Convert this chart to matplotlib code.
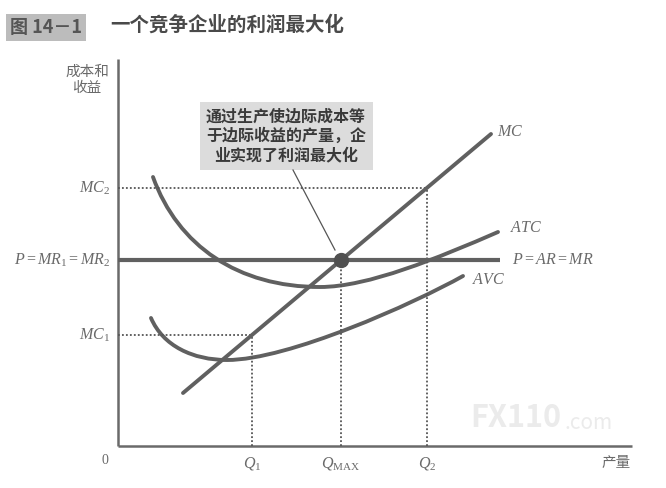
import matplotlib
matplotlib.use('Agg')
import matplotlib.pyplot as plt
from matplotlib.path import Path
from matplotlib.patches import PathPatch, Rectangle

plt.rcParams['font.family'] = ['Noto Sans CJK SC', 'DejaVu Sans']
plt.rcParams['mathtext.fontset'] = 'custom'
plt.rcParams['mathtext.it'] = 'Liberation Serif:italic'
plt.rcParams['mathtext.rm'] = 'Liberation Serif'

# quantities on the x axis
q1 = 134
q_max = 223
q2 = 309
# levels on the y axis
mc1 = 111
price = 186
mc2 = 258

# MC is a straight line
mc_x = [65, 373]
mc_y = [53, 312]

# ATC and AVC as bezier control points (start, c1, c2, end, c1, c2, end)
atc_pts = [(35, 269), (60, 200), (120, 159), (202, 159),
           (250, 159), (320, 188), (380, 214)]
avc_pts = [(33, 128), (45, 100), (75, 86), (109, 86),
           (170, 86), (295, 142), (345, 170)]

x_end = 514
y_top = 387
p_end = 382

curve_col = '#606060'
text_col = '#6a6a6a'

fig = plt.figure(figsize=(6.66, 4.88), dpi=100)
ax = fig.add_axes([0, 0, 1, 1])
ax.set_xlim(-118, 548)
ax.set_ylim(-42, 446)
ax.axis('off')

# axes
ax.plot([0, 0], [0, y_top], color='#6a6a6a', lw=1.8, solid_capstyle='butt')
ax.plot([0, x_end], [0, 0], color='#6a6a6a', lw=1.8, solid_capstyle='butt')

# dotted guides
dot = dict(color='#555555', lw=1.3, ls=(0, (1, 1.2)))
ax.plot([0, q2], [mc2, mc2], **dot)
ax.plot([q2, q2], [0, mc2], **dot)
ax.plot([0, q1], [mc1, mc1], **dot)
ax.plot([q1, q1], [0, mc1], **dot)
ax.plot([q_max, q_max], [0, price], **dot)

# price line
ax.plot([0, p_end], [price, price], color=curve_col, lw=3, solid_capstyle='butt')

def bez(pts):
    codes = [Path.MOVETO] + [Path.CURVE4] * (len(pts) - 1)
    return PathPatch(Path(pts, codes), fill=False, edgecolor=curve_col, lw=2.8,
                     capstyle='round')

ax.add_patch(bez(atc_pts))
ax.add_patch(bez(avc_pts))
ax.plot(mc_x, mc_y, color=curve_col, lw=2.8, solid_capstyle='round')

ax.plot([q_max], [price], 'o', color='#505050', ms=10)

# annotation
ax.add_patch(Rectangle((82, 276), 173, 68, facecolor='#dcdcdc', edgecolor='none'))
ax.text(168, 310, '通过生产使边际成本等\n于边际收益的产量，企\n业实现了利润最大化',
        ha='center', va='center', fontsize=11.5, fontweight='bold',
        color='#3a3a3a', linespacing=1.25)
ax.plot([175, 217], [276, 196], color='#555555', lw=0.9)

# labels
fs = 11.5
ax.text(-8, mc2, r'$MC_2$', ha='right', va='center', fontsize=fs, color=text_col)
ax.text(-8, price, r'$P = MR_1 = MR_2$', ha='right', va='center', fontsize=fs, color=text_col)
ax.text(-8, mc1, r'$MC_1$', ha='right', va='center', fontsize=fs, color=text_col)
ax.text(mc_x[1] + 6, mc_y[1] + 2, r'$MC$', ha='left', va='center', fontsize=fs, color=text_col)
ax.text(atc_pts[-1][0] + 12, atc_pts[-1][1] + 4, r'$ATC$', ha='left', va='center', fontsize=fs, color=text_col)
ax.text(avc_pts[-1][0] + 9, avc_pts[-1][1] - 3, r'$AVC$', ha='left', va='center', fontsize=fs, color=text_col)
ax.text(p_end + 12, price, r'$P = AR = MR$', ha='left', va='center', fontsize=fs, color=text_col)

ax.text(q1, -17, r'$Q_1$', ha='center', va='center', fontsize=fs, color=text_col)
ax.text(q_max, -17, r'$Q_{\mathrm{MAX}}$', ha='center', va='center', fontsize=fs, color=text_col)
ax.text(q2, -17, r'$Q_2$', ha='center', va='center', fontsize=fs, color=text_col)
ax.text(-13, -14, '0', ha='center', va='center', fontsize=10, color=text_col,
        family='Liberation Serif')
ax.text(x_end - 16, -17, '产量', ha='center', va='center', fontsize=10.5, color=text_col)
ax.text(-31, 366, '成本和\n收益', ha='center', va='center', fontsize=10.5,
        color=text_col, linespacing=1.15)

# watermark
ax.text(352, 12, 'FX110', ha='left', va='bottom', fontsize=22, fontweight='bold',
        color='#ebebeb')
ax.text(446, 12, '.com', ha='left', va='bottom', fontsize=15, color='#ebebeb')

# title
fig.text(10 / 666, 1 - 37 / 488, '图 14－1', fontsize=13, fontweight='bold', color='#555555',
         ha='left', va='bottom',
         bbox=dict(facecolor='#bcbcbc', edgecolor='none', pad=3))
fig.text(110 / 666, 1 - 25 / 488, '一个竞争企业的利润最大化', fontsize=14, fontweight='bold',
         color='#4a4a4a', ha='left', va='center')

fig.savefig('out.png', dpi=100)
